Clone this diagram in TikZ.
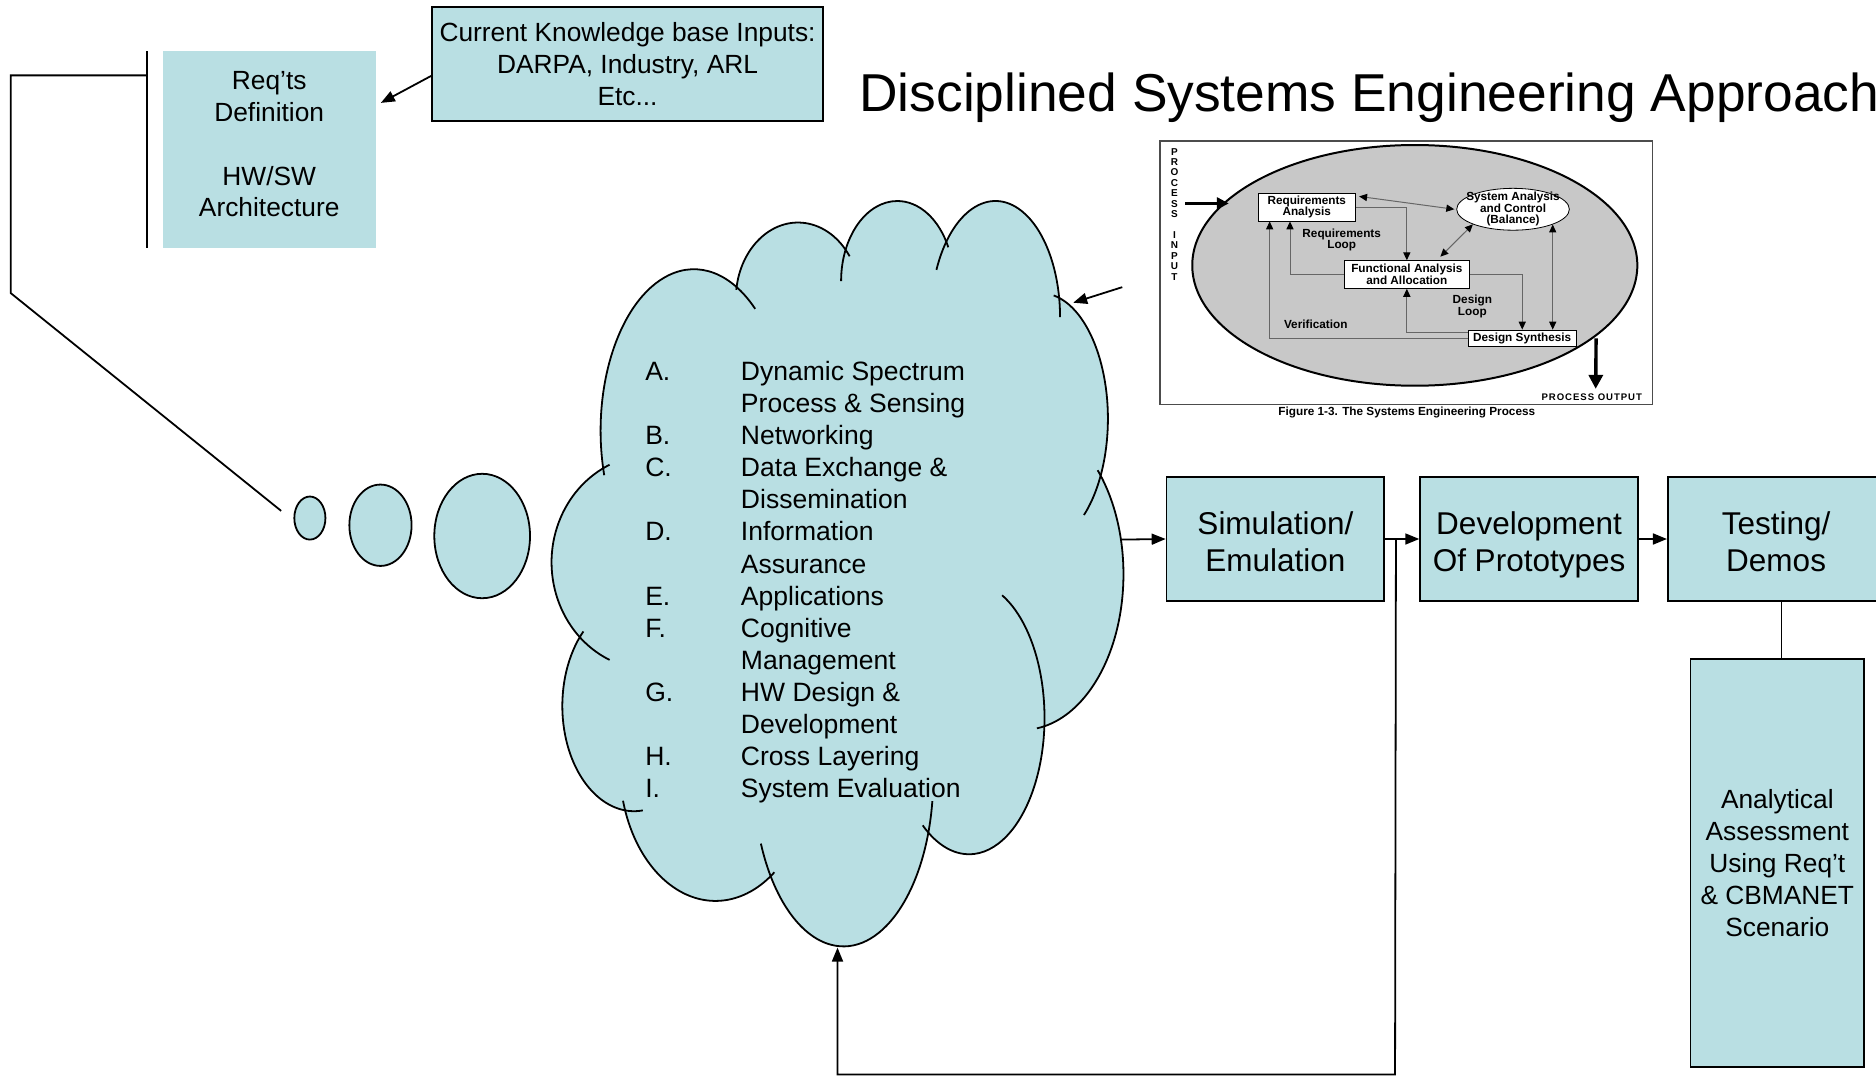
\documentclass[tikz,border=0pt]{standalone}
\usepackage{fontspec}
\setmainfont{Liberation Sans}
\usetikzlibrary{arrows.meta,calc,shapes.geometric}
\definecolor{cyanfill}{RGB}{185,223,227}
\definecolor{figgray}{RGB}{200,200,200}
\newcommand\cloudlobe[6]{\draw[cloudline] (#1,#2) ++({#3*cos(#5)},{#4*sin(#5)}) arc[start angle=#5,end angle=#6,x radius=#3,y radius=#4];}
\newcommand\lobefill[4]{\fill[cyanfill] (#1,#2) ellipse[x radius=#3,y radius=#4];}
\newcommand\topstrut{\rule{0pt}{19.2pt}}
\begin{document}
\begin{tikzpicture}[x=0.6pt,y=-0.6pt,
  every node/.style={inner sep=0pt},
  cbox/.style={draw=black,line width=0.9pt,fill=cyanfill,align=center},
  conn/.style={line width=0.9pt},
  arr/.style={conn,-{Triangle[length=7pt,width=5.5pt]}},
  cloudline/.style={line width=0.9pt},
  figline/.style={draw=black!60,line width=0.5pt},
  figarr/.style={figline,-{Triangle[length=4pt,width=3.6pt,color=black]}},
  figdbl/.style={figline,{Triangle[length=4pt,width=3.6pt,color=black]}-{Triangle[length=4pt,width=3.6pt,color=black]}},
  figtxt/.style={font=\bfseries\fontsize{5.9}{5.8}\selectfont,align=center},
  figbox/.style={draw=black,line width=0.4pt,fill=white,figtxt},
]
\useasboundingbox (0,0) rectangle (1568,900);
\fill[white] (0,0) rectangle (1568,900);

% ---------- left bracket ----------
\coordinate (b1) at (123,43);
\coordinate (b2) at (123,207);
\coordinate (h1) at (9,63);
\coordinate (h2) at (123,63);
\coordinate (d1) at (9,245);
\coordinate (d2) at (235,427);
\draw[conn] (b1) -- (b2);
\draw[conn] (h2) -- (h1) -- (d1) -- (d2);

% ---------- top-left boxes ----------
\node[fill=cyanfill,minimum width=106.8pt,minimum height=98.4pt] (req) at (225,125) {};
\node[align=center,font=\fontsize{13.2}{16}\selectfont] (reqtxt) at (225,120.5) {Req’ts\\Definition\\[16pt]HW/SW\\Architecture};
\node[cbox,minimum width=196.2pt,minimum height=57pt,font=\fontsize{13.2}{16}\selectfont] (kb) at (524.5,53.5) {Current Knowledge base Inputs:\\DARPA, Industry, ARL\\Etc...};
\draw[arr] ([yshift=-6pt]kb.west) -- ([xshift=2.4pt,yshift=23.4pt]req.east);

% ---------- title ----------
\node[anchor=base west,font=\fontsize{26.75}{30}\selectfont] (title) at (718,93) {Disciplined Systems Engineering Approach};

% ---------- thought bubbles ----------
\draw[conn,fill=cyanfill] (259,433) ellipse[x radius=13,y radius=18];
\draw[conn,fill=cyanfill] (318,439) ellipse[x radius=26,y radius=34];
\draw[conn,fill=cyanfill] (403,448) ellipse[x radius=40,y radius=52];

% ---------- cloud ----------
\lobefill{545}{470}{84}{90}
\lobefill{580}{360}{78}{135}
\lobefill{667}{250}{52}{64}
\lobefill{750}{235}{47}{67}
\lobefill{832}{265}{54}{97}
\lobefill{870}{350}{56}{105}
\lobefill{855}{480}{84}{130}
\lobefill{810}{600}{63}{114}
\lobefill{705}{650}{75}{141}
\lobefill{598}{640}{80}{113}
\lobefill{530}{590}{60}{88}
\fill[cyanfill] (580,360) -- (667,250) -- (750,235) -- (832,265) -- (870,350) -- (855,480) -- (810,600) -- (705,650) -- (598,640) -- (530,590) -- (545,470) -- cycle;
\cloudlobe{545}{470}{84}{90}{115}{245}
\cloudlobe{580}{360}{78}{135}{164}{311}
\cloudlobe{667}{250}{52}{64}{187}{326}
\cloudlobe{750}{235}{47}{67}{180}{335}
\cloudlobe{832}{265}{54}{97}{204}{360}
\cloudlobe{870}{350}{56}{105}{-79}{50}
\cloudlobe{855}{480}{84}{130}{-42}{82}
\cloudlobe{810}{600}{63}{114}{-64}{128}
\cloudlobe{705}{650}{75}{141}{8}{157}
\cloudlobe{598}{640}{80}{113}{52}{165}
\cloudlobe{530}{590}{60}{88}{83}{225}

\node[anchor=base west,font=\fontsize{13.3}{16.1}\selectfont] (topics) at (539,318) {\begin{tabular}[t]{@{}p{48pt}@{}l@{}}
A. & Dynamic Spectrum\\
   & Process \& Sensing\\
B. & Networking\\
C. & Data Exchange \&\\
   & Dissemination\\
D. & Information\\
   & Assurance\\
E. & Applications\\
F. & Cognitive\\
   & Management\\
G. & HW Design \&\\
   & Development\\
H. & Cross Layering\\
I. & System Evaluation
\end{tabular}};

\coordinate (cin) at (938,240);
\coordinate (cloudTR) at (897,253);
\coordinate (cloudR) at (937,451);
\coordinate (cloudB) at (700,792);
\draw[arr] (cin) -- (cloudTR);

% ---------- process boxes ----------
\node[cbox,minimum width=109.2pt,minimum height=61.8pt,font=\fontsize{15.8}{18.6}\selectfont] (sim) at (1066,450.5) {\topstrut Simulation/\\Emulation\strut};
\node[cbox,minimum width=109.2pt,minimum height=61.8pt,font=\fontsize{15.8}{18.6}\selectfont] (dev) at (1278,450.5) {\topstrut Development\\Of Prototypes\strut};
\node[cbox,minimum width=108.6pt,minimum height=61.8pt,font=\fontsize{15.8}{18.6}\selectfont] (test) at (1484.5,450.5) {\topstrut Testing/\\Demos\strut};
\node[cbox,minimum width=87pt,minimum height=204.6pt,font=\fontsize{13.2}{16}\selectfont] (ana) at (1485.5,721.5) {Analytical\\Assessment\\Using Req’t\\\& CBMANET\\Scenario};

\draw[arr] (cloudR) -- (sim.west);
\draw[arr] (sim.east) -- (dev.west);
\draw[arr] (dev.east) -- (test.west);
\draw[conn] ([xshift=2.1pt]ana.north) -- ([xshift=2.1pt]ana.north |- test.south);
\coordinate (junc) at ($(sim.east)+(9,0)$);
\coordinate (loopbot) at (1166,898);
\draw[arr] (junc) -- (loopbot) -| (cloudB);

% ---------- embedded SE process figure ----------
\draw[black!70,line width=0.6pt,fill=white] (969.6,117.9) rectangle (1381.4,337.9);
\draw[line width=1pt,fill=figgray] (1182.5,221.8) ellipse[x radius=186,y radius=100.6];

\node[font=\bfseries\fontsize{5}{5.22}\selectfont,align=center] (pin) at (981.6,179) {P\\R\\O\\C\\E\\S\\S\\[5.22pt]I\\N\\P\\U\\T};
\coordinate (pinS) at (990.5,170);
\coordinate (pinE) at (1027,170);
\draw[line width=1.3pt,-{Triangle[length=6pt,width=6pt]}] (pinS) -- (pinE);

\node[figbox,minimum width=48.5pt,minimum height=13.9pt] (rqa) at (1092.2,173.15) {Requirements\\Analysis};
\node[draw=black,line width=0.4pt,fill=white,ellipse,minimum width=56.5pt,minimum height=21pt] (sac) at (1264.6,174.9) {};
\node[figtxt] (sactxt) at (sac.center) {System Analysis\\and Control\\(Balance)};
\node[figbox,minimum width=62.7pt,minimum height=13.9pt] (fa) at (1175.85,229.45) {Functional Analysis\\and Allocation};
\node[figbox,minimum width=54pt,minimum height=8.4pt] (ds) at (1272.3,282.8) {Design Synthesis};

\node[figtxt] (rloop) at (1121.4,200.5) {Requirements\\Loop};
\node[figtxt] (dloop) at (1230.6,255.9) {Design\\Loop};
\node[figtxt] (verif) at (1099.7,270.8) {Verification};

\draw[figdbl] ($(rqa.east)+(3,-9)$) -- ([xshift=-1pt]sac.west);
\draw[figarr] (rqa.east) -| (fa.north);
\draw[figdbl] ($(fa.north)+(28,-3)$) -- (sac.south west);
\draw[figdbl] (sac.-21) -- (sac.-21 |- ds.north);
\draw[figarr] (fa.east) -| (ds.north);
\draw[figarr] ($(ds.west)+(0,-5)$) -| (fa.south);
\draw[figarr] (fa.west) -| ($(rqa.south)+(-14,0)$);
\draw[figarr] (ds.west) -| ($(rqa.south)+(-31,0)$);

\coordinate (poutS) at ($(ds.east)+(16.4,0)$);
\coordinate (poutE) at (1333.7,325);
\draw[line width=1.7pt,-{Triangle[length=7pt,width=7pt]}] (poutS) -- (poutE);
\node[font=\bfseries\fontsize{4.8}{5}\selectfont\addfontfeature{LetterSpace=10}] (pout) at (1330.4,332.1) {PROCESS OUTPUT};
\node[font=\bfseries\fontsize{5.9}{6}\selectfont] (figcap) at (1175.8,344.6) {Figure 1-3. The Systems Engineering Process};
\end{tikzpicture}
\end{document}
